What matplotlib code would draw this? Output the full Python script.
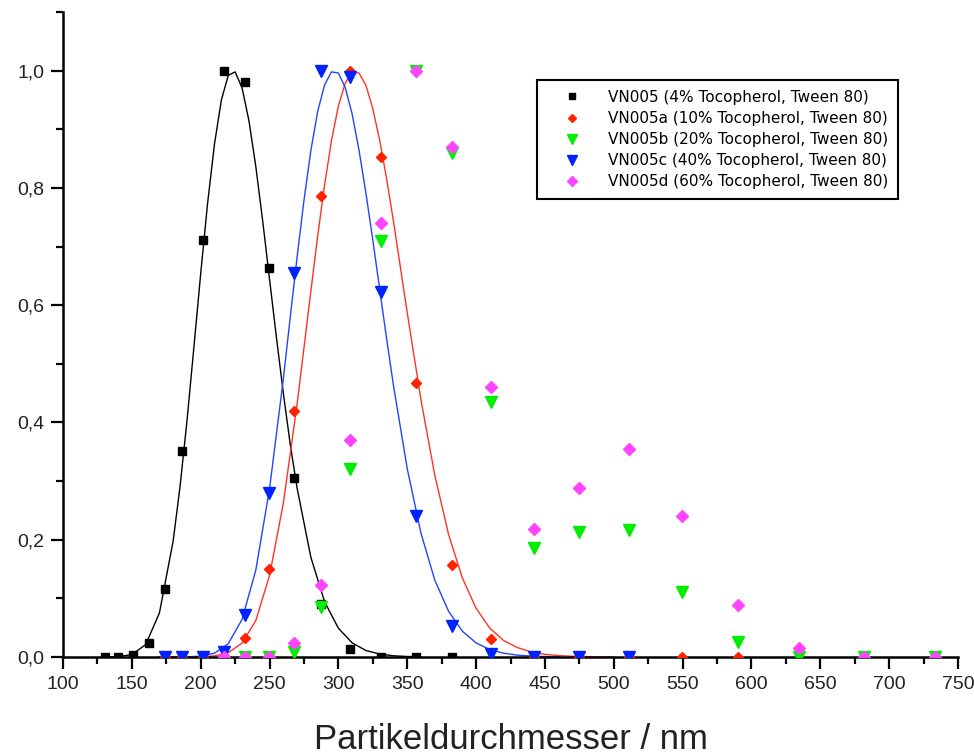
import matplotlib
matplotlib.use('Agg')
import matplotlib.pyplot as plt
from matplotlib.ticker import MultipleLocator, FuncFormatter

# particle diameter bins (nm), shared by all samples
bins = [130.6, 140.2, 150.5, 162.3, 174.3, 186.7, 201.3, 216.6, 231.9, 249.4,
        267.6, 287.3, 308.4, 331.0, 356.0, 382.4, 411.0, 442.0, 475.0, 511.3,
        549.5, 590.0, 634.5, 682.0, 733.0]

# measured intensities (normalised)
vn005 = [0, 0, 0.003, 0.024, 0.116, 0.351, 0.711, 1.0, 0.98, 0.664, 0.305,
         0.09, 0.014, 0, 0, 0]
vn005a = [0, 0, 0, 0.002, 0.033, 0.15, 0.42, 0.786, 1.0, 0.852, 0.468, 0.157,
          0.03, 0, 0, 0, 0, 0]
vn005b = [0, 0, 0.009, 0.086, 0.32, 0.71, 1.0, 0.86, 0.435, 0.186, 0.213,
          0.216, 0.11, 0.026, 0, 0, 0]
vn005c = [0, 0, 0, 0.009, 0.072, 0.28, 0.655, 1.0, 0.99, 0.622, 0.24, 0.052,
          0.005, 0, 0, 0]
vn005d = [0, 0, 0, 0.024, 0.123, 0.37, 0.74, 1.0, 0.87, 0.46, 0.218, 0.288,
          0.355, 0.241, 0.088, 0.016, 0, 0]

# fitted curves
fit_x_black = [130, 140, 150, 160, 170, 180, 185, 190, 195, 200, 205, 210, 215,
               220, 225, 230, 235, 240, 245, 250, 255, 260, 265, 270, 280, 290,
               300, 310, 320, 330, 340, 350, 360]
fit_black = [0.0, 0.0005, 0.004, 0.021, 0.075, 0.198, 0.291, 0.402, 0.527,
             0.654, 0.774, 0.875, 0.950, 0.992, 0.998, 0.971, 0.915, 0.837,
             0.744, 0.644, 0.545, 0.450, 0.363, 0.288, 0.170, 0.094, 0.049,
             0.024, 0.011, 0.005, 0.002, 0.0008, 0.0003]

fit_x_red = [170, 180, 190, 200, 210, 220, 230, 240, 250, 260, 270, 280, 285,
             290, 295, 300, 305, 310, 315, 320, 325, 330, 335, 340, 345, 350,
             360, 370, 380, 390, 400, 410, 420, 430, 440, 450, 460, 470, 480,
             490, 500]
fit_red = [0, 0, 0.0001, 0.0003, 0.0018, 0.0073, 0.0236, 0.062, 0.139, 0.262,
           0.431, 0.624, 0.719, 0.806, 0.881, 0.940, 0.979, 0.998, 0.996,
           0.975, 0.935, 0.881, 0.816, 0.743, 0.665, 0.587, 0.438, 0.310,
           0.209, 0.135, 0.083, 0.049, 0.028, 0.016, 0.0086, 0.0045, 0.0023,
           0.0012, 0.0006, 0.0003, 0.0001]

fit_x_blue = [170, 180, 190, 200, 210, 220, 230, 240, 250, 260, 265, 270, 275,
              280, 285, 290, 295, 300, 305, 310, 315, 320, 325, 330, 335, 340,
              350, 360, 370, 380, 390, 400, 410, 420, 430, 440, 450, 460]
fit_blue = [0, 0, 0.0002, 0.0014, 0.0064, 0.0226, 0.064, 0.148, 0.287, 0.474,
            0.579, 0.682, 0.779, 0.864, 0.931, 0.976, 0.998, 0.996, 0.971,
            0.926, 0.864, 0.791, 0.711, 0.627, 0.543, 0.463, 0.321, 0.211,
            0.131, 0.078, 0.044, 0.024, 0.0126, 0.0064, 0.0031, 0.0015,
            0.0007, 0.0003]

labels = ['VN005 (4% Tocopherol, Tween 80)',
          'VN005a (10% Tocopherol, Tween 80)',
          'VN005b (20% Tocopherol, Tween 80)',
          'VN005c (40% Tocopherol, Tween 80)',
          'VN005d (60% Tocopherol, Tween 80)']

fig = plt.figure(figsize=(9.74, 7.56), dpi=100)
ax = fig.add_axes([0.0647, 0.131, 0.9189, 0.853])

# fit lines
ax.plot(fit_x_black, fit_black, color='black', lw=1.0, zorder=2)
ax.plot(fit_x_red, fit_red, color='#ff3322', lw=1.0, zorder=2)
ax.plot(fit_x_blue, fit_blue, color='#2244ff', lw=1.0, zorder=2)

# data points
ax.plot(bins[0:16], vn005, 's', color='black', ms=5.5, lw=0, label=labels[0], zorder=3)
ax.plot(bins[4:22], vn005a, 'D', color='#ff2200', ms=5, lw=0, label=labels[1], zorder=3)
ax.plot(bins[8:25], vn005b, 'v', color='#00ee00', ms=8, lw=0, label=labels[2], zorder=3)
ax.plot(bins[4:20], vn005c, 'v', color='#0022ff', ms=8, lw=0, label=labels[3], zorder=3)
ax.plot(bins[7:25], vn005d, 'D', color='#ff44ff', ms=6.5, lw=0, label=labels[4], zorder=3)

ax.set_xlim(100, 750)
ax.set_ylim(0, 1.1)
ax.xaxis.set_major_locator(MultipleLocator(50))
ax.xaxis.set_minor_locator(MultipleLocator(25))
ax.yaxis.set_major_locator(MultipleLocator(0.2))
ax.yaxis.set_minor_locator(MultipleLocator(0.1))
ax.yaxis.set_major_formatter(FuncFormatter(lambda v, p: ('%.1f' % v).replace('.', ',')))

for s in ['top', 'right']:
    ax.spines[s].set_visible(False)
for s in ['left', 'bottom']:
    ax.spines[s].set_linewidth(1.8)

ax.tick_params(which='major', direction='out', length=8.5, width=1.6,
               labelsize=14, labelcolor='#222222', pad=5)
ax.tick_params(which='minor', direction='out', length=5, width=1.6)
for lab in ax.get_xticklabels() + ax.get_yticklabels():
    lab.set_family('Liberation Sans')

ax.set_xlabel('Partikeldurchmesser / nm', fontsize=25, family='Liberation Sans',
              color='#222222', labelpad=22)

leg = ax.legend(loc='upper left', bbox_to_anchor=(0.53, 0.895), borderaxespad=0,
                fancybox=False, framealpha=1, edgecolor='black',
                prop={'family': 'DejaVu Sans', 'size': 11},
                handlelength=3.2, handletextpad=0.75, borderpad=0.65,
                labelspacing=0.4, markerscale=0.85)
leg.get_frame().set_linewidth(1.5)

fig.savefig('out.png', dpi=100)
